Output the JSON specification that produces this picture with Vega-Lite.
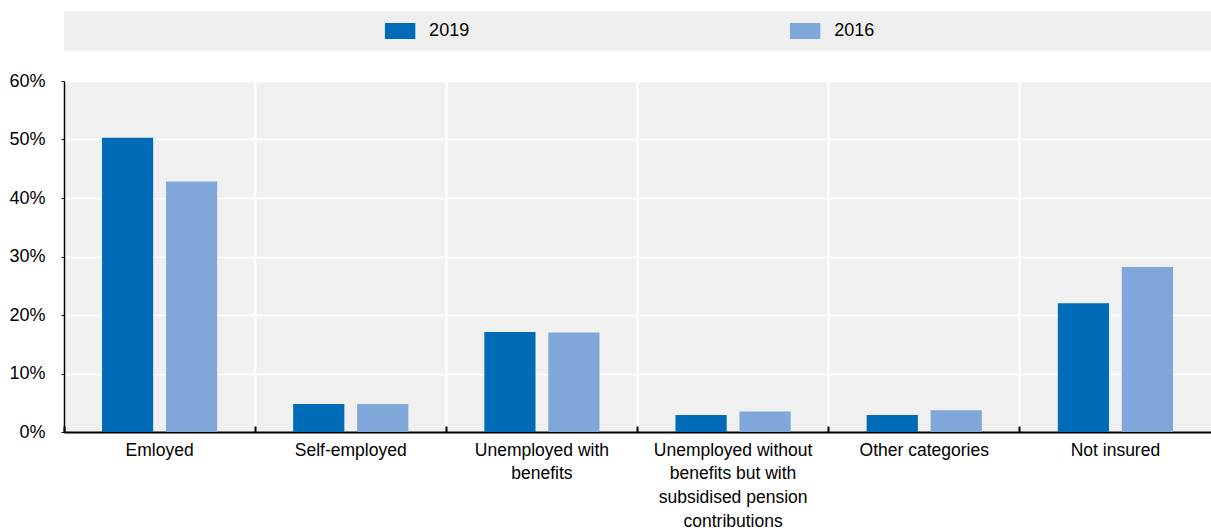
{
  "$schema": "https://vega.github.io/schema/vega-lite/v6.json",
  "padding": {"top": 11, "left": 8, "right": 0, "bottom": 0},
  "background": "white",
  "spacing": 21,
  "config": {
    "font": "Liberation Sans, Arial, sans-serif",
    "view": {"stroke": null},
    "axis": {"labelColor": "#000000", "labelFontSize": 18, "domainColor": "#000000", "tickColor": "#000000"}
  },
  "vconcat": [
    {
      "width": 1147,
      "height": 40,
      "view": {"fill": "#efefef", "stroke": null},
      "data": {"values": [{"year": "2019"}, {"year": "2016"}]},
      "encoding": {
        "x": {"field": "year", "type": "nominal", "sort": ["2019", "2016"], "scale": {"type": "point", "padding": 0.916, "align": 0.453}, "axis": null}
      },
      "layer": [
        {
          "mark": {"type": "point", "shape": "M-1.9,-1H1.9V1H-1.9Z", "size": 256, "filled": true, "opacity": 1},
          "encoding": {"color": {"field": "year", "type": "nominal", "scale": {"domain": ["2019", "2016"], "range": ["#006bb6", "#7fa7d9"]}, "legend": null}}
        },
        {
          "mark": {"type": "text", "align": "left", "dx": 29, "fontSize": 18, "color": "#000000"},
          "encoding": {"text": {"field": "year"}}
        }
      ]
    },
    {
      "width": 1147,
      "height": 351,
      "view": {"fill": "#f0f0f0", "stroke": null},
      "data": {"values": [
        {"category": "Emloyed", "year": "2019", "value": 0.503},
        {"category": "Emloyed", "year": "2016", "value": 0.428},
        {"category": "Self-employed", "year": "2019", "value": 0.048},
        {"category": "Self-employed", "year": "2016", "value": 0.048},
        {"category": "Unemployed with benefits", "year": "2019", "value": 0.171},
        {"category": "Unemployed with benefits", "year": "2016", "value": 0.170},
        {"category": "Unemployed without benefits but with subsidised pension contributions", "year": "2019", "value": 0.029},
        {"category": "Unemployed without benefits but with subsidised pension contributions", "year": "2016", "value": 0.035},
        {"category": "Other categories", "year": "2019", "value": 0.029},
        {"category": "Other categories", "year": "2016", "value": 0.037},
        {"category": "Not insured", "year": "2019", "value": 0.220},
        {"category": "Not insured", "year": "2016", "value": 0.282}
      ]},
      "mark": {"type": "bar"},
      "encoding": {
        "x": {
          "field": "category", "type": "nominal",
          "sort": ["Emloyed", "Self-employed", "Unemployed with benefits", "Unemployed without benefits but with subsidised pension contributions", "Other categories", "Not insured"],
          "scale": {"paddingInner": 0, "paddingOuter": 0},
          "axis": {
            "title": null, "labelAngle": 0, "grid": true, "gridColor": "#ffffff", "gridWidth": 2,
            "bandPosition": 0, "tickSize": -6, "tickWidth": 2, "domainWidth": 2, "labelPadding": 15, "labelLineHeight": 23.7, "labelLimit": 0, "labelFontSize": 17.5,
            "labelExpr": "datum.value == 'Unemployed with benefits' ? ['Unemployed with', 'benefits'] : datum.value == 'Unemployed without benefits but with subsidised pension contributions' ? ['Unemployed without', 'benefits but with', 'subsidised pension', 'contributions'] : datum.label"
          }
        },
        "xOffset": {"field": "year", "type": "nominal", "sort": ["2019", "2016"], "scale": {"paddingInner": 0.2, "paddingOuter": 0.594}},
        "y": {
          "field": "value", "type": "quantitative",
          "scale": {"domain": [0, 0.6]},
          "axis": {"title": null, "values": [0, 0.1, 0.2, 0.3, 0.4, 0.5, 0.6], "format": ".0%", "grid": true, "gridColor": "#ffffff", "gridWidth": 1.5, "tickSize": 3, "labelPadding": 16, "domainWidth": 1.5}
        },
        "color": {"field": "year", "type": "nominal", "scale": {"domain": ["2019", "2016"], "range": ["#006bb6", "#7fa7d9"]}, "legend": null}
      }
    }
  ]
}
